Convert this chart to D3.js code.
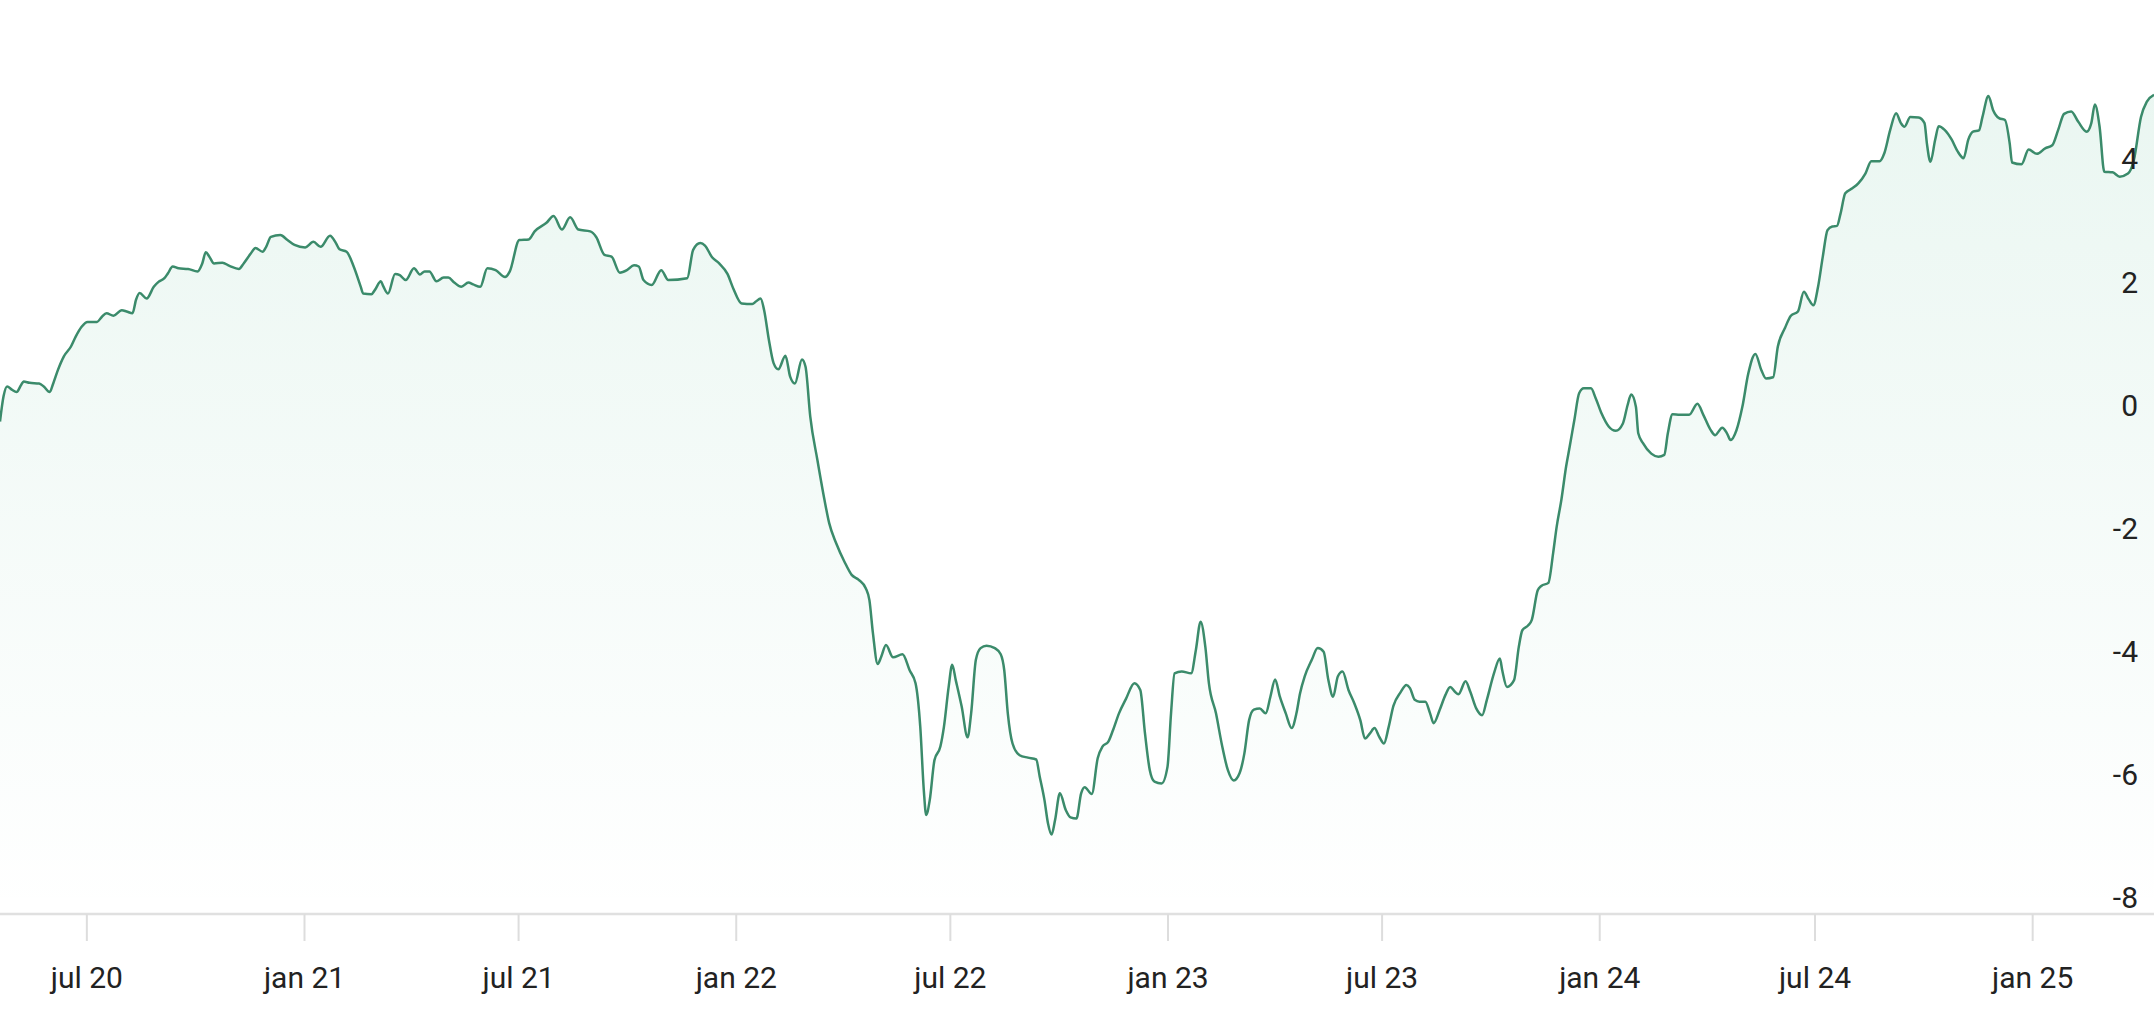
<!DOCTYPE html>
<html>
<head>
<meta charset="utf-8">
<script src="https://cdn.jsdelivr.net/npm/d3@7"></script>
<style>
    body { margin: 0; background: #fff; }
    #chart text { font-family: Roboto, "Noto Sans", sans-serif; fill: #222; }
</style>
</head>
<body>
<div id="chart"></div>
<script>

// first date of the series, the rest are day offsets from it
var startDate = '2020-04-19';

var dayOffsets = [
    0, 3, 6, 10, 14, 18, 20, 25, 33, 37, 42, 45, 49, 54, 60, 64, 69, 74, 82, 86,
    90, 96, 103, 107, 112, 115, 118, 124, 130, 134, 139, 142, 146, 151, 159, 167, 171, 174, 177, 181,
    188, 194, 202, 206, 212, 216, 222, 225, 229, 237, 243, 249, 258, 265, 271, 279, 284, 287, 293, 299,
    305, 307, 314, 317, 322, 324, 328, 334, 338, 343, 350, 355, 359, 363, 369, 375, 379, 384, 390, 396,
    400, 406, 412, 419, 427, 431, 439, 447, 452, 462, 468, 475, 482, 489, 499, 504, 511, 517, 524, 530,
    536, 540, 544, 551, 559, 565, 581, 586, 592, 596, 602, 608, 615, 620, 627, 636, 639, 643, 646, 650,
    654, 658, 664, 668, 672, 678, 681, 685, 691, 697, 701, 707, 714, 720, 726, 732, 735, 738, 742, 745,
    749, 755, 763, 769, 774, 778, 781, 783, 786, 790, 795, 798, 802, 805, 808, 813, 818, 821, 825, 829,
    834, 841, 846, 849, 852, 856, 862, 869, 876, 879, 883, 886, 889, 892, 896, 901, 905, 910, 914, 917,
    923, 928, 932, 937, 941, 946, 952, 959, 964, 968, 972, 976, 982, 987, 990, 993, 999, 1007, 1011, 1015,
    1019, 1022, 1028, 1033, 1038, 1043, 1048, 1052, 1056, 1060, 1065, 1070, 1074, 1078, 1082, 1087, 1092, 1096, 1099, 1103,
    1109, 1114, 1119, 1123, 1127, 1131, 1135, 1140, 1145, 1150, 1154, 1158, 1162, 1166, 1170, 1174, 1178, 1184, 1189, 1192,
    1196, 1200, 1205, 1209, 1212, 1217, 1222, 1226, 1230, 1233, 1239, 1243, 1248, 1253, 1257, 1263, 1268, 1270, 1274, 1280,
    1284, 1287, 1292, 1295, 1300, 1303, 1309, 1313, 1316, 1320, 1324, 1327, 1331, 1335, 1339, 1345, 1349, 1354, 1360, 1366,
    1372, 1376, 1379, 1383, 1385, 1389, 1396, 1402, 1407, 1410, 1414, 1420, 1428, 1435, 1440, 1446, 1450, 1456, 1460, 1463,
    1468, 1473, 1478, 1484, 1489, 1493, 1499, 1503, 1509, 1514, 1520, 1525, 1529, 1533, 1537, 1541, 1545, 1549, 1553, 1556,
    1560, 1566, 1571, 1577, 1582, 1589, 1593, 1598, 1603, 1607, 1610, 1615, 1622, 1627, 1629, 1632, 1636, 1639, 1644, 1650,
    1655, 1660, 1664, 1668, 1673, 1676, 1681, 1685, 1690, 1695, 1699, 1701, 1709, 1715, 1722, 1729, 1735, 1740, 1745, 1751,
    1757, 1764, 1768, 1771, 1775, 1779, 1786, 1792, 1799, 1804, 1810, 1815, 1821
];

var values = [
    0.00, 0.41, 0.57, 0.52, 0.48, 0.60, 0.65, 0.63, 0.62, 0.57, 0.48, 0.62, 0.84, 1.06, 1.22, 1.38, 1.54, 1.62, 1.62, 1.70,
    1.76, 1.72, 1.81, 1.79, 1.76, 1.98, 2.09, 2.00, 2.19, 2.27, 2.33, 2.41, 2.52, 2.49, 2.48, 2.44, 2.57, 2.75, 2.68, 2.57,
    2.58, 2.53, 2.48, 2.57, 2.73, 2.82, 2.76, 2.84, 3.00, 3.03, 2.95, 2.87, 2.83, 2.92, 2.84, 3.02, 2.90, 2.80, 2.76, 2.52,
    2.19, 2.08, 2.07, 2.14, 2.28, 2.20, 2.08, 2.40, 2.38, 2.30, 2.49, 2.39, 2.44, 2.44, 2.28, 2.34, 2.34, 2.26, 2.19, 2.26,
    2.23, 2.19, 2.49, 2.46, 2.35, 2.44, 2.95, 2.96, 3.09, 3.23, 3.34, 3.12, 3.32, 3.12, 3.09, 3.00, 2.71, 2.68, 2.42, 2.46,
    2.54, 2.52, 2.30, 2.22, 2.46, 2.30, 2.33, 2.79, 2.90, 2.86, 2.67, 2.57, 2.40, 2.16, 1.92, 1.91, 1.95, 2.00, 1.81, 1.33,
    0.95, 0.85, 1.07, 0.73, 0.62, 1.01, 0.89, 0.08, -0.62, -1.27, -1.65, -1.98, -2.28, -2.49, -2.57, -2.71, -2.90, -3.44, -3.94, -3.82,
    -3.63, -3.83, -3.78, -4.04, -4.25, -4.96, -5.99, -6.39, -6.15, -5.50, -5.28, -4.96, -4.31, -3.95, -4.20, -4.63, -5.13, -4.74, -3.87, -3.68,
    -3.64, -3.68, -3.78, -4.04, -4.74, -5.23, -5.42, -5.46, -5.49, -5.77, -6.15, -6.53, -6.71, -6.47, -6.04, -6.31, -6.43, -6.45, -6.04, -5.94,
    -6.05, -5.47, -5.28, -5.20, -5.01, -4.74, -4.50, -4.25, -4.36, -5.07, -5.66, -5.85, -5.88, -5.61, -4.74, -4.09, -4.06, -4.09, -3.71, -3.25,
    -3.66, -4.25, -4.74, -5.25, -5.66, -5.83, -5.71, -5.39, -4.85, -4.68, -4.66, -4.74, -4.47, -4.19, -4.47, -4.74, -4.98, -4.74, -4.42, -4.14,
    -3.87, -3.68, -3.74, -4.20, -4.47, -4.14, -4.06, -4.36, -4.58, -4.85, -5.15, -5.07, -4.98, -5.12, -5.23, -4.96, -4.62, -4.40, -4.28, -4.33,
    -4.52, -4.55, -4.55, -4.74, -4.90, -4.69, -4.44, -4.31, -4.39, -4.43, -4.22, -4.39, -4.66, -4.77, -4.52, -4.09, -3.85, -4.04, -4.31, -4.20,
    -3.66, -3.39, -3.31, -3.22, -2.74, -2.67, -2.62, -2.14, -1.71, -1.27, -0.73, -0.41, 0.03, 0.46, 0.54, 0.54, 0.38, 0.13, -0.08, -0.15,
    -0.03, 0.27, 0.44, 0.24, -0.19, -0.35, -0.52, -0.57, -0.54, -0.19, 0.12, 0.11, 0.11, 0.29, 0.11, -0.13, -0.22, -0.10, -0.19, -0.30,
    -0.14, 0.24, 0.78, 1.10, 0.84, 0.70, 0.72, 1.22, 1.52, 1.72, 1.79, 2.11, 1.99, 1.89, 2.19, 2.68, 3.11, 3.17, 3.18, 3.38,
    3.71, 3.79, 3.87, 4.03, 4.23, 4.23, 4.36, 4.74, 5.01, 4.85, 4.79, 4.95, 4.94, 4.85, 4.52, 4.22, 4.58, 4.80, 4.74, 4.58,
    4.39, 4.28, 4.58, 4.71, 4.73, 4.95, 5.29, 5.06, 4.93, 4.90, 4.52, 4.21, 4.18, 4.42, 4.35, 4.44, 4.49, 4.74, 5.00, 5.04,
    4.87, 4.71, 4.85, 5.15, 4.79, 4.06, 4.05, 3.98, 4.03, 4.25, 4.95, 5.20, 5.31
];

var yTicks = [-8, -6, -4, -2, 0, 2, 4];
var monthNames = ['jan', 'feb', 'mrt', 'apr', 'mei', 'jun', 'jul', 'aug', 'sep', 'okt', 'nov', 'dec'];

// SVG setup
var width = 2154,
    height = 1010;

var svg = d3.select('#chart').append('svg')
    .attr('width', width)
    .attr('height', height);

var start = d3.timeParse('%Y-%m-%d')(startDate);
var data = dayOffsets.map(function (d, i) {
    return { date: d3.timeDay.offset(start, d), value: values[i] };
});

// Scales
var x = d3.scaleTime()
    .domain(d3.extent(data, function (d) { return d.date; }))
    .range([0, width]);

var y = d3.scaleLinear()
    .domain([-8, 4])
    .range([914, 175.4]);

// soft green fill under the line
var grad = svg.append('defs').append('linearGradient')
    .attr('id', 'fillGrad')
    .attr('gradientUnits', 'userSpaceOnUse')
    .attr('x1', 0).attr('x2', 0)
    .attr('y1', y(d3.max(values))).attr('y2', y(-8));
grad.append('stop').attr('offset', 0).attr('stop-color', '#2eaa78').attr('stop-opacity', 0.1);
grad.append('stop').attr('offset', 1).attr('stop-color', '#2eaa78').attr('stop-opacity', 0);

var area = d3.area()
    .x(function (d) { return x(d.date); })
    .y0(y(-8))
    .y1(function (d) { return y(d.value); })
    .curve(d3.curveMonotoneX);

var line = d3.line()
    .x(function (d) { return x(d.date); })
    .y(function (d) { return y(d.value); })
    .curve(d3.curveMonotoneX);

svg.append('path')
    .datum(data)
    .attr('d', area)
    .style('fill', 'url(#fillGrad)');

svg.append('path')
    .datum(data)
    .attr('d', line)
    .style('fill', 'none')
    .style('stroke', '#3b8b6b')
    .style('stroke-width', 2.5)
    .style('stroke-linejoin', 'round');

// x axis: every half year
var xAxis = d3.axisBottom(x)
    .ticks(d3.timeMonth.every(6))
    .tickSize(27)
    .tickPadding(26)
    .tickFormat(function (d) {
        return monthNames[d.getMonth()] + ' ' + d3.timeFormat('%y')(d);
    });

var gx = svg.append('g')
    .attr('transform', 'translate(0,' + y(-8) + ')')
    .call(xAxis);
gx.select('.domain')
    .attr('d', 'M0,0H' + width)
    .style('stroke', '#e0e0e0')
    .style('stroke-width', 2.5);
gx.selectAll('.tick line')
    .style('stroke', '#dddddd')
    .style('stroke-width', 2);
gx.selectAll('.tick text')
    .style('font-size', '30px');

// y labels sit just above their value, right side, no grid
svg.append('g')
    .selectAll('text')
    .data(yTicks)
    .enter()
    .append('text')
    .attr('x', 2138)
    .attr('y', function (d) { return y(d) - 6; })
    .attr('text-anchor', 'end')
    .style('font-size', '30px')
    .text(function (d) { return d; });

</script>
</body>
</html>
